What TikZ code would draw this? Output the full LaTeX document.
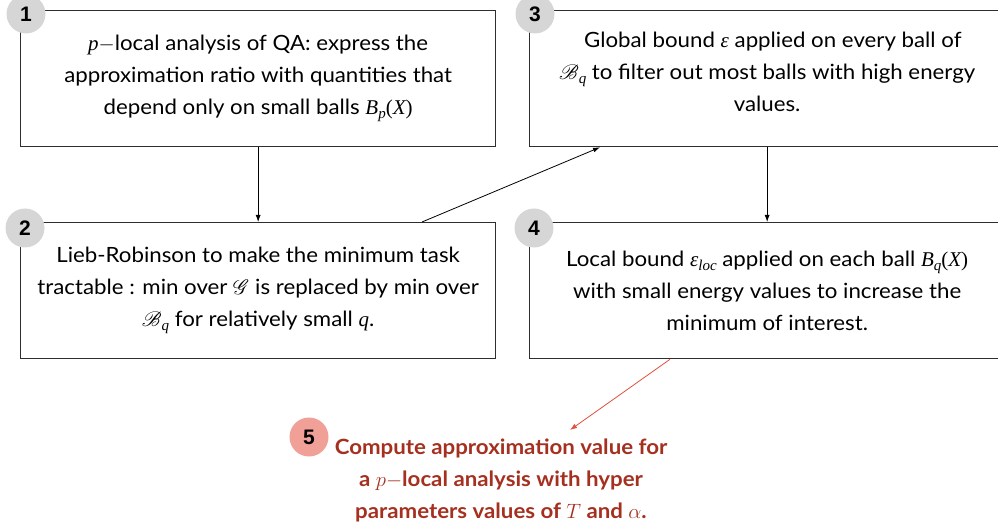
\documentclass[tikz,border=0pt]{standalone}
\usepackage{amsmath}
\usepackage{mathrsfs}
\usepackage{fontspec}
\setmainfont[FakeStretch=1.06]{Lato}
\newfontfamily\numfont{Liberation Sans}
\newfontfamily\tms{Liberation Serif}
\usetikzlibrary{arrows.meta}

% serif italic symbols used inside the step boxes
\newcommand\mi[1]{{\tms\itshape #1}}
\newcommand\msub[2]{#1\raisebox{-0.35ex}{\fontsize{15}{15}\selectfont #2}}

\definecolor{framegray}{HTML}{2E2E2E}
\definecolor{dotgray}{HTML}{D6D6D6}
\definecolor{dotred}{HTML}{F0A097}
\definecolor{resultred}{HTML}{A5301F}
\definecolor{arrowred}{HTML}{E0503F}

\tikzset{
  stepbox/.style={draw=framegray, line width=1.3pt, minimum width=475pt,
    minimum height=136pt, anchor=north west, align=center,
    font=\fontsize{21}{32}\selectfont, inner sep=0pt},
  steptext/.style={align=center, font=\fontsize{21}{32}\selectfont, inner sep=0pt},
  numdot/.style={circle, fill=dotgray, minimum size=39pt, inner sep=0pt,
    font=\numfont\bfseries\fontsize{21}{21}\selectfont},
  conn/.style={draw=black, line width=0.8pt, -{Latex[length=7pt,width=5pt]}},
  redconn/.style={draw=arrowred, line width=0.8pt, -{Latex[length=7pt,width=5pt]}},
}

\begin{document}
\begin{tikzpicture}[x=1pt,y=-1pt]
\useasboundingbox (0,0) rectangle (998,529);
\clip (0,0) rectangle (998,529);

% the four steps
\node[stepbox] (b1) at (20,10)
  {\mi{p}$-$local analysis of QA: express the\\
   approximation ratio with quantities that\\
   depend only on small balls \msub{\mi{B}}{\mi{p}}{\tms(\mi{X})}};
\node[stepbox] (b2) at (20,222)
  {Lieb-Robinson to make the minimum task\\
   tractable : min over $\mathscr{G}$ is replaced by min over\\
   \msub{$\mathscr{B}$}{\mi{q}} for relatively small \mi{q}.};
\node[stepbox] (b3) at (529,10) {};
\node[steptext] (t3) at ([yshift=7pt]b3.center)
  {\ \ Global bound \mi{ε} applied on every ball of\\
   \msub{$\mathscr{B}$}{\mi{q}} to filter out most balls with high energy\\
   values.};
\node[stepbox] (b4) at (529,222)
  {Local bound \msub{\mi{ε}}{\mi{loc}} applied on each ball \msub{\mi{B}}{\mi{q}}{\tms(\mi{X})}\\
   with small energy values to increase the\\
   minimum of interest.};

% final result
\node[align=center, text=resultred, font=\bfseries\fontsize{21}{32}\selectfont]
  (b5) at (501,480)
  {Compute approximation value for\\
   a $p-$local analysis with hyper\\
   parameters values of $T$ and $\alpha$.};

% numbered markers
\node[numdot] (n1) at (26,14) {1};
\node[numdot] (n2) at (25,228) {2};
\node[numdot] (n3) at (535,14) {3};
\node[numdot] (n4) at (534,228) {4};
\node[numdot, fill=dotred] (n5) at (309,437) {5};

% connectors
\coordinate (tip) at (570,430);
\draw[conn] (b1.south) -- (b2.north);
\draw[conn] ([xshift=402pt]b2.north west) -- ([xshift=71pt]b3.south west);
\draw[conn] (b3.south) -- (b4.north);
\draw[redconn] ([xshift=141pt]b4.south west) -- (tip);
\end{tikzpicture}
\end{document}
